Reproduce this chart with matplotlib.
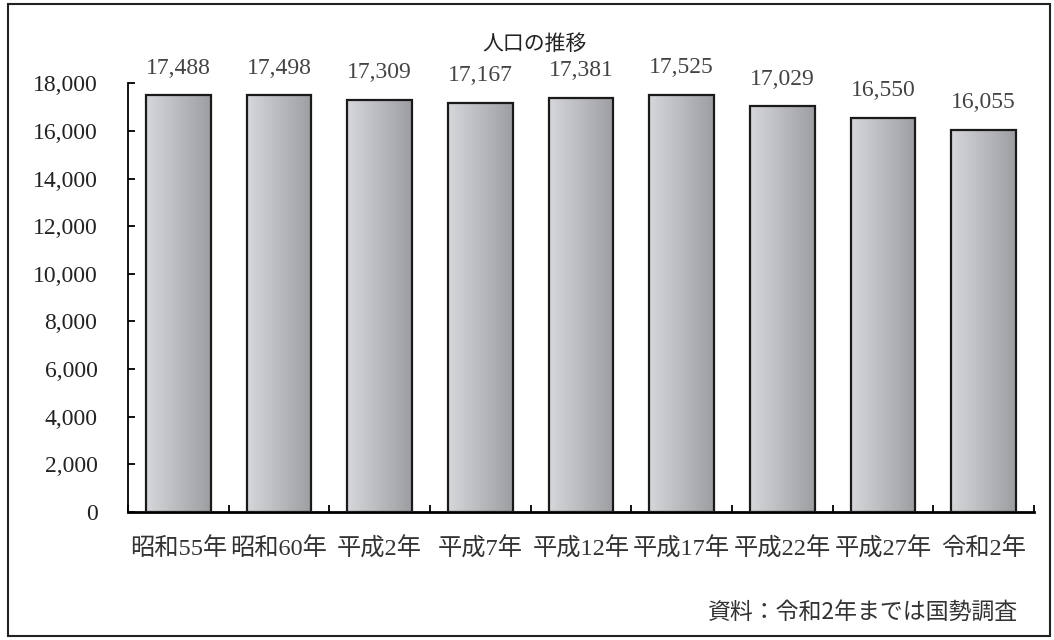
import numpy as np
import matplotlib
matplotlib.use("Agg")
import matplotlib.pyplot as plt
from matplotlib.patches import Rectangle
from matplotlib.colors import LinearSegmentedColormap

categories = ["昭和55年", "昭和60年", "平成2年", "平成7年", "平成12年",
              "平成17年", "平成22年", "平成27年", "令和2年"]
values = [17488, 17498, 17309, 17167, 17381, 17525, 17029, 16550, 16055]
yticks = [0, 2000, 4000, 6000, 8000, 10000, 12000, 14000, 16000, 18000]
title = "人口の推移"
source = "資料：令和2年までは国勢調査"

fam = ['Liberation Serif', 'Noto Sans CJK JP', 'DejaVu Sans']
plt.rcParams['font.family'] = fam

fig = plt.figure(figsize=(10.54, 6.4), dpi=100)
# outer frame
fig.patches.append(Rectangle((8/1054, 4/640), (1050-8)/1054, (636-4)/640,
                             transform=fig.transFigure, fill=False,
                             edgecolor='#222222', linewidth=1.5))

ax = fig.add_axes([128/1054, 0.2, (1034-128)/1054, (512-83.3)/640])
x = np.arange(len(categories))
bars = ax.bar(x, values, width=0.64, facecolor='none', edgecolor='#1a1a1a',
              linewidth=1.6, zorder=3)

cmap = LinearSegmentedColormap.from_list('g', ['#d6d7da', '#9d9ea2'])
grad = np.linspace(0, 1, 256).reshape(1, -1)
for b in bars:
    bx, bw, bh = b.get_x(), b.get_width(), b.get_height()
    im = ax.imshow(grad, cmap=cmap, aspect='auto',
                   extent=(bx, bx + bw, 0, bh), zorder=2, interpolation='bilinear')
    im.set_clip_path(b)

for xi, v in zip(x, values):
    ax.annotate(f"{v:,}", (xi, v), xytext=(0, 12), textcoords='offset points',
                ha='center', va='bottom', fontsize=17, color='#444444',
                clip_on=False)

ax.set_xlim(-0.5, len(categories) - 0.5)
ax.set_ylim(0, 18000)
ax.set_yticks(yticks)
ax.set_yticklabels([f"{t:,}" for t in yticks], fontsize=17, color='#222222')
ax.set_xticks(np.arange(len(categories) + 1) - 0.5)
ax.set_xticklabels([])
ax.set_xticks(x, minor=True)
ax.set_xticklabels(categories, minor=True, fontsize=17.5, color='#333333')
ax.tick_params(axis='x', which='major', direction='in', length=5, width=1.3)
ax.tick_params(axis='x', which='minor', length=0, pad=18)
ax.tick_params(axis='y', direction='in', length=5, width=1.3, pad=22)

for s in ['top', 'right']:
    ax.spines[s].set_visible(False)
ax.spines['left'].set_linewidth(1.3)
ax.spines['bottom'].set_linewidth(2.0)

fig.text(534/1054, 1 - 44/640, title, ha='center', va='center',
         fontsize=15, family=['Noto Sans CJK JP', 'DejaVu Sans'], color='#222222')
fig.text(1018/1054, 1 - 612/640, source, ha='right', va='center',
         fontsize=16.5, family=['Noto Sans CJK JP', 'DejaVu Sans'], color='#333333')

fig.savefig('out.png', dpi=100)
